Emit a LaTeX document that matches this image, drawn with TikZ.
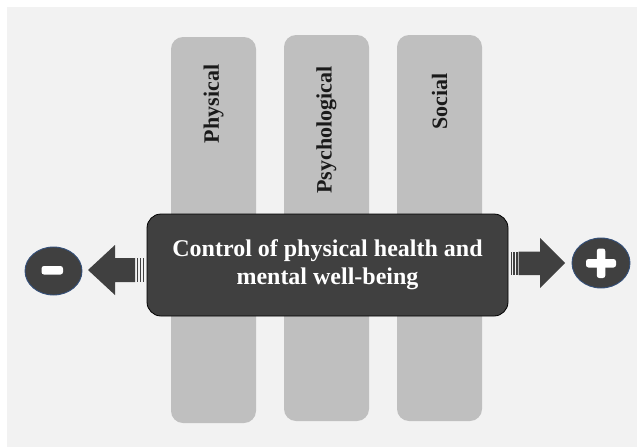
\documentclass[tikz,border=0pt]{standalone}
\usepackage{fontspec}
\setmainfont{Liberation Serif}
\usetikzlibrary{shapes.geometric}
\definecolor{panelbg}{HTML}{F2F2F2}
\definecolor{barfill}{HTML}{BFBFBF}
\definecolor{darkfill}{HTML}{404040}
\definecolor{rimblue}{HTML}{34507A}
\definecolor{labeltext}{HTML}{1A1A1A}

\tikzset{
  column/.style={fill=barfill, rounded corners=12pt, minimum width=85pt,
                 minimum height=386pt, inner sep=0pt},
  collabel/.style={rotate=90, text=labeltext, inner sep=0pt,
                   font=\fontsize{22}{26}\selectfont\bfseries},
  mainbox/.style={fill=darkfill, draw=black, line width=0.8pt, rounded corners=14pt,
                  minimum width=361pt, minimum height=102pt, align=center,
                  text=white, font=\fontsize{24}{28}\selectfont\bfseries},
  signdisc/.style={ellipse, fill=darkfill, draw=rimblue, line width=0.9pt,
                   inner sep=0pt},
  blockarrow/.style={fill=darkfill},
  glyph/.style={fill=white, rounded corners=2.5pt}
}

\begin{document}
\begin{tikzpicture}[x=1pt, y=-1pt]
  \useasboundingbox (0,0) rectangle (637,447);
  \fill[white] (0,0) rectangle (637,447);
  \fill[panelbg] (7,7) rectangle (637,447);

  % the three vertical dimension bars
  \node[column] (physcol) at (213.5,230) {};
  \node[column] (psycol)  at (326.5,228) {};
  \node[column] (soccol)  at (439.5,228) {};

  \node[collabel] (physlbl) at (213.5,104) {Physical};
  \node[collabel] (psylbl)  at (326.5,130) {Psychological};
  \node[collabel] (soclbl)  at (439.5,101.5) {Social};

  % central statement
  \node[mainbox] (ctrl) at (327.5,265)
    {Control of physical health and\\mental well-being};

  % minus and plus discs
  \node[signdisc, minimum width=57pt, minimum height=48pt] (minus) at (53.5,271) {};
  \node[signdisc, minimum width=58pt, minimum height=50pt] (plus) at (601,263) {};

  \fill[glyph] (41.5,266) rectangle (63,274.5);
  \fill[glyph] (586,259) rectangle (616,267.5);
  \fill[glyph] (596.8,248.5) rectangle (605.3,278);

  % left block arrow with striped tail
  \fill[blockarrow] (88,270) -- (115,245) -- (115,258) -- (135,258)
    -- (135,282) -- (115,282) -- (115,295) -- cycle;
  \foreach \sx in {136.8,139.8,142.6}
    \fill[blockarrow] (\sx,258) rectangle (\sx+1.6,282);

  % right block arrow with striped tail
  \foreach \sx in {510.5,513.4,516.2}
    \fill[blockarrow] (\sx,251.5) rectangle (\sx+1.6,275);
  \fill[blockarrow] (518.5,251.5) -- (540,251.5) -- (540,238) -- (565,263)
    -- (540,288) -- (540,275) -- (518.5,275) -- cycle;
\end{tikzpicture}
\end{document}
